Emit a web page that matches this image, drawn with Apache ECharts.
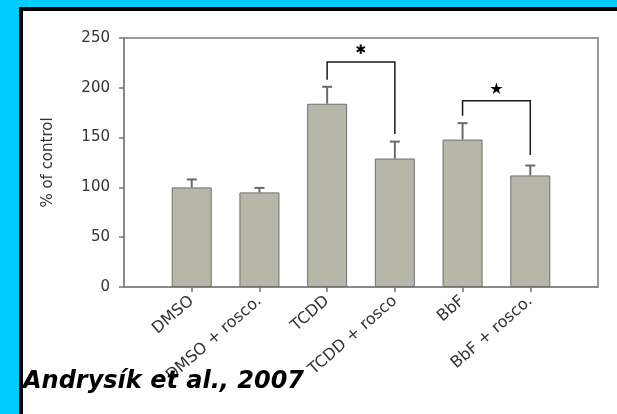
<!DOCTYPE html>
<html>
<head>
<meta charset="utf-8">
<script src="https://cdn.jsdelivr.net/npm/echarts@6/dist/echarts.min.js"></script>
<style>
html,body{margin:0;padding:0;background:#00CCFF;}
#c{width:617px;height:414px;}
</style>
</head>
<body>
<div id="c"></div>
<script>
const categories = ['DMSO', 'DMSO + rosco.', 'TCDD', 'TCDD + rosco', 'BbF', 'BbF + rosco.'];
const values = [100, 95, 184, 129, 148, 112];
const errors = [8, 4.5, 17, 17, 16.5, 10];
const yTicks = [0, 50, 100, 150, 200, 250];
// brackets: [leftIndex, rightIndex, topValue, leftLegEnd, rightLegEnd, starValue, starGlyph, starSize]
const brackets = [
  [2, 3, 226, 208, 153.5, 237, '\u2731', 13],
  [4, 5, 187, 172, 132.5, 198, '\u2605', 16]
];
const citation = 'Andrysík et al., 2007';

const axisCats = [''].concat(categories, ['']);
const chart = echarts.init(document.getElementById('c'));
const font = 'DejaVu Sans';

chart.setOption({
  backgroundColor: '#00CCFF',
  animation: false,
  graphic: [
    {type: 'rect', z: -10, shape: {x: 19, y: 7, width: 598, height: 407}, style: {fill: '#000'}},
    {type: 'rect', z: -9, shape: {x: 23, y: 11, width: 594, height: 403}, style: {fill: '#fff'}},
    {type: 'text', z: 10, x: 23, y: 370, style: {text: citation, fill: '#000', font: 'italic bold 24px "DejaVu Sans"'}}
  ],
  grid: {left: 124, right: 19, top: 38, bottom: 127, show: true, borderColor: '#9a9a9a', borderWidth: 2, backgroundColor: 'transparent'},
  xAxis: {
    type: 'category',
    data: axisCats,
    boundaryGap: false,
    axisLine: {lineStyle: {color: '#888', width: 2}},
    axisTick: {length: 5, lineStyle: {color: '#777', width: 1.5}, interval: function (i) { return i > 0 && i < axisCats.length - 1; }},
    axisLabel: {interval: 0, rotate: 41, margin: 12, color: '#333', fontFamily: font, fontSize: 16},
    splitLine: {show: false}
  },
  yAxis: {
    type: 'value',
    min: 0, max: 250, interval: 50,
    name: '% of control',
    nameLocation: 'middle',
    nameGap: 68,
    nameTextStyle: {color: '#333', fontFamily: font, fontSize: 15},
    axisLine: {show: true, lineStyle: {color: '#888', width: 2}},
    axisTick: {show: true, length: 5, lineStyle: {color: '#777', width: 1.5}},
    axisLabel: {color: '#333', fontFamily: font, fontSize: 15, margin: 14, formatter: function (v) { return yTicks.indexOf(v) >= 0 ? String(v) : ''; }},
    splitLine: {show: false}
  },
  series: [
    {
      type: 'bar',
      barWidth: 40,
      data: values.map(function (v, i) { return [i + 1, v]; }),
      itemStyle: {color: '#b6b6a9', borderColor: '#6f6f6f', borderWidth: 1},
      z: 2
    },
    {
      type: 'custom',
      z: 3,
      data: values.map(function (v, i) { return [i + 1, v, errors[i]]; }),
      renderItem: function (params, api) {
        const x = api.value(0), v = api.value(1), e = api.value(2);
        const p0 = api.coord([x, v]);
        const p1 = api.coord([x, v + e]);
        const st = {stroke: '#6a6a6a', lineWidth: 2};
        return {type: 'group', children: [
          {type: 'line', shape: {x1: p0[0], y1: p0[1], x2: p1[0], y2: p1[1]}, style: st},
          {type: 'line', shape: {x1: p1[0] - 5, y1: p1[1], x2: p1[0] + 5, y2: p1[1]}, style: st}
        ]};
      }
    },
    {
      type: 'custom',
      z: 4,
      data: brackets.map(function (b) { return [b[0] + 1, b[1] + 1, b[2], b[3], b[4], b[5]]; }),
      renderItem: function (params, api) {
        const b = brackets[params.dataIndex];
        const l = api.value(0), r = api.value(1), top = api.value(2), le = api.value(3), re = api.value(4), sv = api.value(5);
        const tl = api.coord([l, top]), tr = api.coord([r, top]);
        const bl = api.coord([l, le]), br = api.coord([r, re]);
        const sy = api.coord([l, sv])[1];
        const sx = (tl[0] + tr[0]) / 2;
        const st = {stroke: '#1a1a1a', lineWidth: 1.5, fill: null};
        return {type: 'group', children: [
          {type: 'polyline', shape: {points: [bl, tl, tr, br]}, style: st},
          {type: 'text', style: {text: b[6], x: sx, y: sy, align: 'center', verticalAlign: 'middle', fill: '#000', font: 'bold ' + b[7] + 'px "DejaVu Sans"'}}
        ]};
      }
    }
  ]
});
</script>
</body>
</html>
